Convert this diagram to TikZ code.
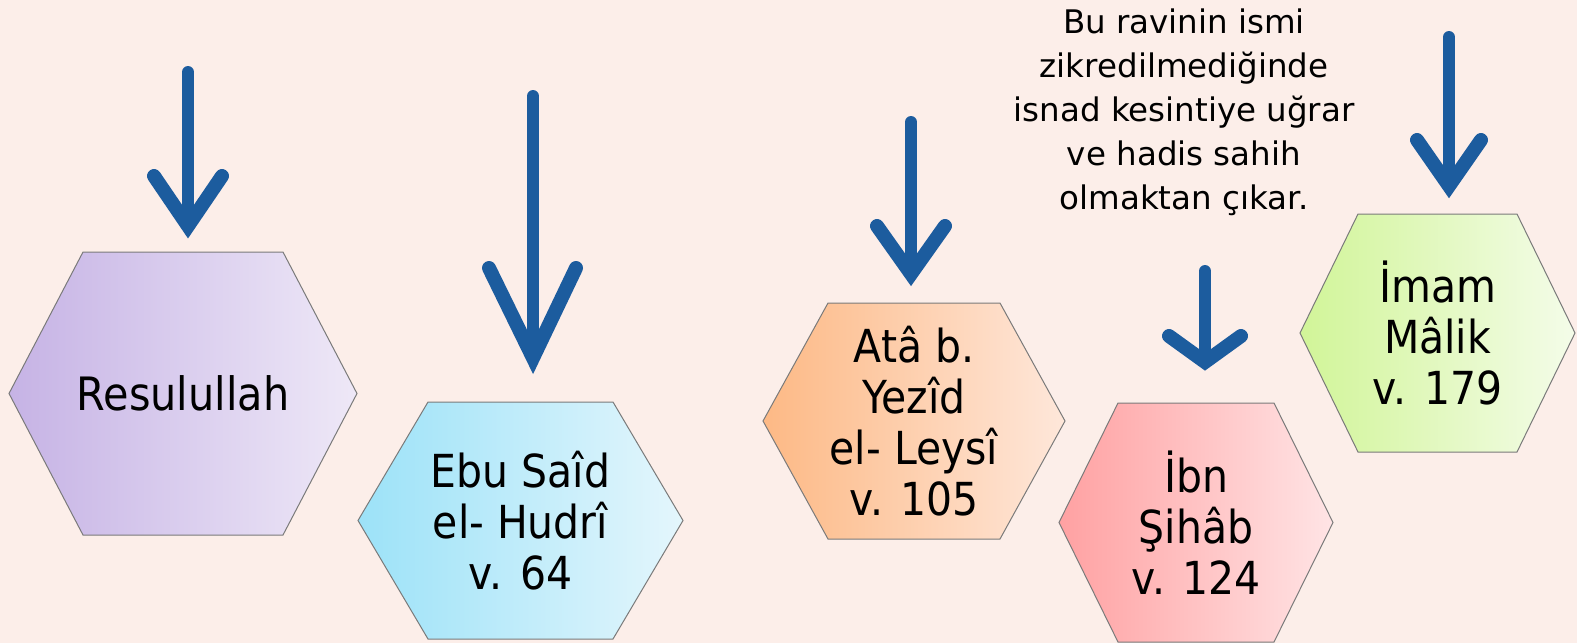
\documentclass[tikz,border=0pt]{standalone}
\usepackage{fontspec}
\setmainfont{DejaVu Sans}
\newfontfamily\hexfont[FakeStretch=0.9]{DejaVu Sans}
\definecolor{bg}{HTML}{FCEEE9}
\definecolor{arrowblue}{HTML}{1C5C9E}
\definecolor{hexborder}{HTML}{7A7A7A}
\definecolor{purL}{HTML}{C6B3E5}\definecolor{purR}{HTML}{EEE8F7}
\definecolor{bluL}{HTML}{9CE2F8}\definecolor{bluR}{HTML}{E4F6FC}
\definecolor{orL}{HTML}{FDB985}\definecolor{orR}{HTML}{FEE7DA}
\definecolor{redL}{HTML}{FFA1A2}\definecolor{redR}{HTML}{FFE4E5}
\definecolor{grL}{HTML}{D1F598}\definecolor{grR}{HTML}{F4FCE9}
\tikzset{
  hexline/.style={draw=hexborder, line width=1pt},
  hextext/.style={align=center, font=\hexfont\fontsize{45.5}{51}\selectfont, inner sep=0pt},
  arrowline/.style={draw=arrowblue, line width=12pt, line cap=round, line join=round},
  arrowhead/.style={draw=arrowblue, line width=14pt, line cap=round, line join=miter},
  notetext/.style={align=center, font=\fontsize{32.5}{44}\selectfont, inner sep=0pt}
}
\newcommand\hexagonnode[9]{%
  \path[hexline, left color=#7, right color=#8]
    ({#2-#4/2},#3) -- ({#2-#4/2+#6},{#3-#5/2}) -- ({#2+#4/2-#6},{#3-#5/2})
    -- ({#2+#4/2},#3) -- ({#2+#4/2-#6},{#3+#5/2}) -- ({#2-#4/2+#6},{#3+#5/2}) -- cycle;
  \node[hextext] (#1) at (#2,#3) {#9};
}
\newcommand\handarrow[7]{% name topx topy tipy armLx armRx army
  \coordinate (#1top) at (#2,#3);
  \coordinate (#1tip) at (#2,#4);
  \coordinate (#1l) at (#5,#7);
  \coordinate (#1r) at (#6,#7);
  \draw[arrowline] (#1top) -- (#1tip);
  \draw[arrowhead] (#1l) -- (#1tip) -- (#1r);
}
\begin{document}
\begin{tikzpicture}[x=1pt,y=-1pt]
\useasboundingbox (0,0) rectangle (1577,643);
\fill[bg] (0,0) rectangle (1577,643);

\hexagonnode{resul}{183}{393.5}{348}{283}{74}{purL}{purR}{\fontsize{46}{51}\selectfont Resulullah}
\hexagonnode{ebusaid}{520.5}{520.5}{325}{237}{70}{bluL}{bluR}{Ebu Saîd\\el- Hudrî\\v. 64}
\hexagonnode{ata}{914}{421}{302}{236}{65}{orL}{orR}{Atâ b.\\Yezîd\\el- Leysî\\v. 105}
\hexagonnode{ibnsihab}{1196}{522.5}{274}{239}{59}{redL}{redR}{İbn\\Şihâb\\v. 124}
\hexagonnode{malik}{1437.5}{333}{275}{238}{58}{grL}{grR}{İmam\\Mâlik\\v. 179}

\handarrow{aone}{188}{72}{226}{154}{222}{176}
\handarrow{atwo}{533}{96}{358}{489}{576}{268}
\handarrow{athree}{911}{122}{274}{877}{945}{226}
\handarrow{afour}{1205}{271}{362}{1169}{1241}{336}
\handarrow{afive}{1449}{37}{186}{1417}{1481}{140}

\node[notetext] (note) at (1184,112) {Bu ravinin ismi\\zikredilmediğinde\\isnad kesintiye uğrar\\ve hadis sahih\\olmaktan çıkar.};
\end{tikzpicture}
\end{document}
